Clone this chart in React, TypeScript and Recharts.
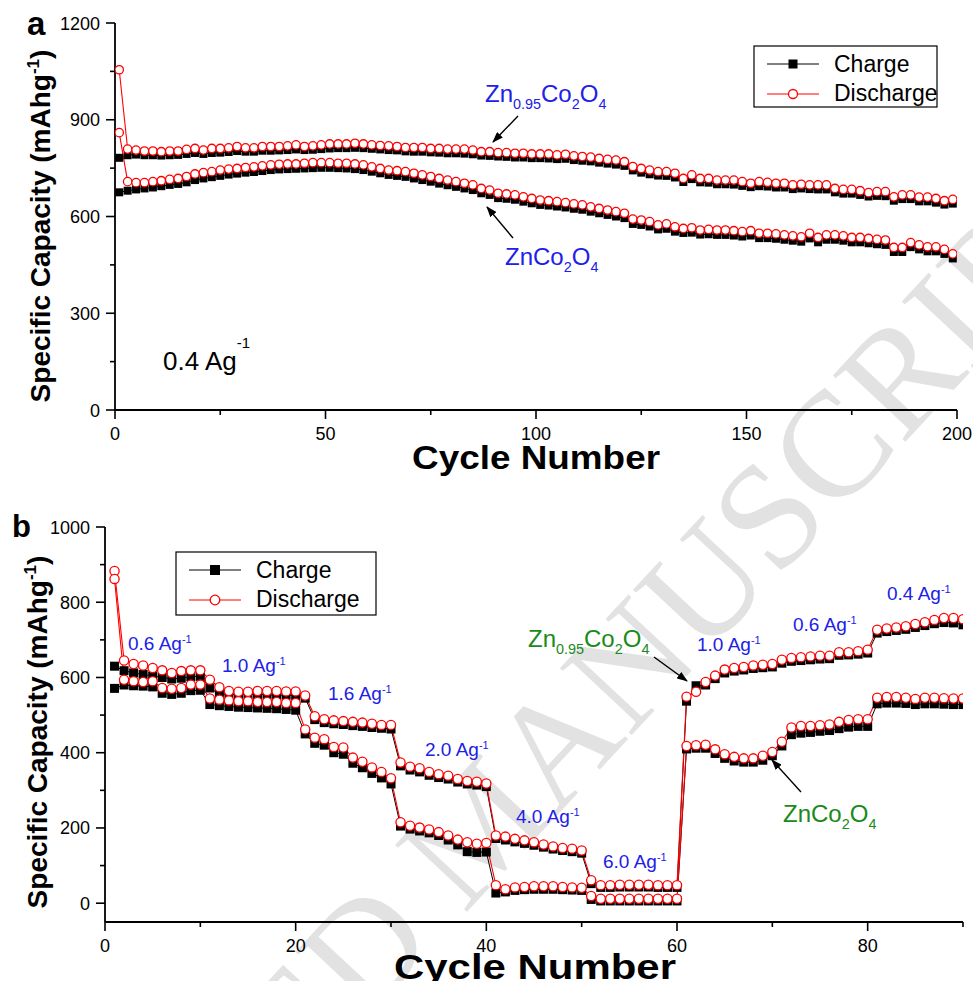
import React from "react";
import { LineChart, Line, XAxis, YAxis } from "recharts";

const FONT = "'Liberation Sans', Arial, Helvetica, sans-serif";
const SERIF = "'Liberation Serif', 'Times New Roman', serif";
const RED = "#ff0000";
const BLUE = "#2020e8";
const GREEN = "#1a8a1a";

// ---- panel a: 0.4 A/g cycling, markers every second cycle ----
const cyclesA = [
  1, 3, 5, 7, 9, 11, 13, 15, 17, 19, 21, 23, 25, 27, 29, 31, 33, 35, 37, 39, 41, 43, 45, 47, 49,
  51, 53, 55, 57, 59, 61, 63, 65, 67, 69, 71, 73, 75, 77, 79, 81, 83, 85, 87, 89, 91, 93, 95, 97, 99,
  101, 103, 105, 107, 109, 111, 113, 115, 117, 119, 121, 123, 125, 127, 129, 131, 133, 135, 137, 139,
  141, 143, 145, 147, 149, 151, 153, 155, 157, 159, 161, 163, 165, 167, 169, 171, 173, 175, 177, 179,
  181, 183, 185, 187, 189, 191, 193, 195, 197, 199,
];
const zn95DisA = [
  1055, 809, 806, 803, 803, 801, 803, 803, 808, 811, 806, 811, 811, 813, 817, 813, 813, 817, 817, 817, 819, 822,
  817, 819, 822, 825, 825, 825, 827, 825, 822, 820, 819, 817, 814, 814, 814, 811, 811, 809, 809, 809, 806, 801,
  801, 798, 798, 796, 796, 794, 794, 794, 791, 793, 788, 786, 784, 780, 777, 775, 770,
  755, 749, 744, 739, 739, 734, 718, 729, 718, 718, 713, 713, 713, 708, 703, 708, 706, 703, 703, 698,
  700, 698, 698, 698, 687, 684, 684, 680, 674, 677, 677, 661, 667, 667, 660, 660, 656, 649, 653,
];
const zn95ChgA = [
  782, 790, 792, 790, 790, 789, 790, 791, 794, 797, 794, 797, 798, 800, 803, 801, 801, 804, 804, 805, 806, 808,
  806, 807, 809, 811, 812, 812, 813, 812, 810, 808, 806, 805, 802, 801, 801, 799, 798, 796, 796, 795, 793, 789,
  788, 786, 785, 783, 783, 781, 781, 780, 778, 779, 775, 773, 771, 767, 764, 761, 757,
  743, 736, 731, 727, 726, 721, 707, 716, 706, 705, 700, 700, 699, 695, 691, 694, 693, 690, 690, 685,
  687, 685, 684, 684, 675, 671, 671, 667, 662, 664, 663, 649, 654, 654, 647, 647, 643, 637, 640,
];
const znDisA = [
  860, 708, 705, 705, 708, 711, 715, 718, 724, 732, 736, 739, 744, 747, 749, 752, 754, 757, 760, 762, 763, 763,
  765, 767, 767, 767, 765, 765, 763, 760, 754, 749, 744, 742, 739, 734, 729, 724, 718, 713, 708, 703, 698, 687,
  682, 672, 670, 667, 661, 656, 651, 649, 646, 643, 639, 636, 630, 625, 620, 615, 610,
  592, 589, 584, 574, 577, 568, 563, 565, 558, 560, 558, 558, 556, 553, 556, 548, 548, 546, 543, 540,
  537, 548, 535, 543, 543, 540, 535, 535, 532, 529, 527, 504, 504, 519, 512, 506, 506, 498, 484,
];
const znChgA = [
  675, 680, 684, 687, 690, 694, 698, 701, 706, 713, 718, 722, 726, 730, 733, 736, 738, 741, 744, 746, 747, 748,
  749, 750, 751, 751, 750, 749, 747, 744, 739, 734, 729, 726, 723, 718, 713, 708, 702, 697, 692, 687, 682, 672,
  667, 657, 655, 652, 646, 641, 636, 634, 631, 628, 624, 621, 615, 610, 605, 600, 595,
  577, 574, 569, 560, 562, 553, 549, 550, 544, 545, 543, 543, 541, 538, 541, 533, 533, 531, 528, 525,
  522, 532, 520, 528, 528, 525, 520, 520, 517, 514, 512, 490, 490, 505, 498, 492, 492, 484, 470,
];

// ---- panel b: rate capability ----
const cyclesB = [
  1, 2, 3, 4, 5, 6, 7, 8, 9, 10, 11, 12, 13, 14, 15, 16, 17, 18, 19, 20, 21, 22, 23, 24, 25, 26, 27, 28, 29, 30,
  31, 32, 33, 34, 35, 36, 37, 38, 39, 40, 41, 42, 43, 44, 45, 46, 47, 48, 49, 50, 51, 52, 53, 54, 55, 56, 57, 58,
  59, 60, 61, 62, 63, 64, 65, 66, 67, 68, 69, 70, 71, 72, 73, 74, 75, 76, 77, 78, 79, 80, 81, 82, 83, 84, 85, 86,
  87, 88, 89, 90,
];
const zn95DisB = [
  883, 645, 636, 632, 625, 619, 612, 617, 619, 619,
  594, 574, 564, 562, 562, 564, 564, 564, 563, 563,
  552, 497, 489, 486, 484, 482, 480, 477, 474, 474,
  374, 363, 359, 349, 343, 339, 330, 325, 323, 318,
  180, 177, 171, 167, 162, 156, 151, 147, 145, 140,
  61, 48, 48, 49, 49, 49, 49, 48, 48, 48,
  549, 562, 588, 605, 621, 625, 628, 632, 634, 636,
  647, 652, 654, 656, 658, 658, 667, 667, 670, 674,
  727, 730, 733, 736, 742, 747, 753, 758, 758, 755,
];
const zn95ChgB = [
  630, 618, 612, 608, 604, 600, 596, 598, 602, 603,
  572, 556, 555, 554, 555, 555, 554, 553, 553, 552,
  545, 488, 480, 477, 475, 472, 470, 467, 465, 463,
  365, 354, 349, 340, 334, 330, 322, 317, 314, 310,
  172, 168, 163, 159, 154, 149, 144, 140, 137, 133,
  52, 42, 42, 43, 43, 43, 43, 42, 42, 42,
  537, 578, 580, 597, 612, 617, 620, 624, 626, 628,
  638, 643, 645, 647, 649, 650, 659, 660, 662, 665,
  718, 722, 725, 728, 733, 738, 743, 746, 745, 740,
];
const znDisB = [
  862, 594, 590, 588, 590, 572, 570, 572, 581, 581,
  544, 541, 539, 537, 537, 535, 535, 535, 532, 532,
  462, 440, 436, 415, 414, 387, 376, 361, 349, 332,
  215, 206, 201, 196, 189, 180, 169, 162, 158, 160,
  48, 37, 42, 43, 45, 45, 45, 43, 42, 41,
  19, 12, 12, 12, 12, 12, 12, 12, 12, 12,
  418, 420, 421, 409, 396, 389, 385, 385, 392, 402,
  429, 467, 471, 471, 473, 475, 482, 487, 489, 489,
  546, 548, 548, 546, 543, 546, 546, 545, 544, 544,
];
const znChgB = [
  571, 580, 578, 577, 575, 558, 555, 558, 565, 566,
  528, 525, 523, 521, 520, 519, 518, 517, 515, 513,
  450, 425, 420, 400, 396, 372, 360, 345, 333, 317,
  205, 197, 192, 187, 180, 168, 155, 137, 135, 136,
  27, 30, 34, 36, 37, 37, 37, 36, 35, 34,
  10, 6, 6, 6, 6, 6, 6, 6, 6, 6,
  410, 412, 412, 398, 385, 378, 375, 375, 380, 392,
  418, 448, 452, 454, 457, 459, 464, 468, 470, 470,
  530, 532, 532, 531, 528, 530, 530, 529, 528, 528,
];

// axis ticks (all ticks, and the ones that carry a label)
const xTicksA = [0, 25, 50, 75, 100, 125, 150, 175, 200];
const xLabelsA = [0, 50, 100, 150, 200];
const yTicksA = [0, 150, 300, 450, 600, 750, 900, 1050, 1200];
const yLabelsA = [0, 300, 600, 900, 1200];
const xTicksB = [0, 10, 20, 30, 40, 50, 60, 70, 80, 90];
const xLabelsB = [0, 20, 40, 60, 80];
const yTicksB = [0, 100, 200, 300, 400, 500, 600, 700, 800, 900, 1000];
const yLabelsB = [0, 200, 400, 600, 800, 1000];

// current density labels in panel b: [x, baseline, text]
const ratesB: [number, number, string][] = [
  [128, 650, "0.6"],
  [222, 672, "1.0"],
  [328, 700, "1.6"],
  [425, 756, "2.0"],
  [516, 823, "4.0"],
  [603, 868, "6.0"],
  [697, 651, "1.0"],
  [793, 631, "0.6"],
  [887, 600, "0.4"],
];

const rowsA = cyclesA.map((cycle, i) => ({
  cycle,
  zn95Dis: zn95DisA[i],
  zn95Chg: zn95ChgA[i],
  znDis: znDisA[i],
  znChg: znChgA[i],
}));
const rowsB = cyclesB.map((cycle, i) => ({
  cycle,
  zn95Dis: zn95DisB[i],
  zn95Chg: zn95ChgB[i],
  znDis: znDisB[i],
  znChg: znChgB[i],
}));

type Side = "bottom" | "left" | "top" | "right";

function makeTick(side: Side, labels: number[]) {
  return (p: any) => {
    const v = p.payload.value;
    const major = labels.includes(v);
    const { x, y } = p;
    const len = side === "top" || side === "right" ? 4 : major ? 9 : 5;
    if (side === "bottom") {
      return (
        <g>
          <line x1={x} y1={y} x2={x} y2={y + len} stroke="#000" strokeWidth={1.6} />
          {major && (
            <text x={x} y={y + 30} textAnchor="middle" fontSize={18} fontFamily={FONT} fill="#000">
              {v}
            </text>
          )}
        </g>
      );
    }
    if (side === "left") {
      return (
        <g>
          <line x1={x} y1={y} x2={x - len} y2={y} stroke="#000" strokeWidth={1.6} />
          {major && (
            <text x={x - 15} y={y + 6.5} textAnchor="end" fontSize={18} fontFamily={FONT} fill="#000">
              {v}
            </text>
          )}
        </g>
      );
    }
    if (side === "top") {
      return <line x1={x} y1={y} x2={x} y2={y - len} stroke="#000" strokeWidth={1.4} />;
    }
    return <line x1={x} y1={y} x2={x + len} y2={y} stroke="#000" strokeWidth={1.4} />;
  };
}

const squareDot = (size: number) => (p: any) => (
  <rect key={p.index} x={p.cx - size / 2} y={p.cy - size / 2} width={size} height={size} fill="#000" />
);
const circleDot = (r: number) => ({ r, fill: "#fff", stroke: RED, strokeWidth: 1.3 });

const axisLine = { stroke: "#000", strokeWidth: 1.8 };

function Panel(props: {
  rows: any[];
  width: number;
  height: number;
  margin: { top: number; right: number; bottom: number; left: number };
  xDomain: [number, number];
  yDomain: [number, number];
  xTicks: number[];
  xLabels: number[];
  yTicks: number[];
  yLabels: number[];
  xHeight: number;
  yWidth: number;
  sq: number;
  r: number;
}) {
  const p = props;
  return (
    <LineChart width={p.width} height={p.height} data={p.rows} margin={p.margin}>
      <XAxis
        dataKey="cycle"
        type="number"
        domain={p.xDomain}
        ticks={p.xTicks}
        interval={0}
        height={p.xHeight}
        tickSize={0}
        tickMargin={0}
        tickLine={false}
        axisLine={axisLine}
        tick={makeTick("bottom", p.xLabels)}
        allowDataOverflow
      />
      <XAxis
        xAxisId="top"
        orientation="top"
        type="number"
        domain={p.xDomain}
        ticks={p.xTicks}
        interval={0}
        height={0}
        tickSize={0}
        tickMargin={0}
        tickLine={false}
        axisLine={axisLine}
        tick={makeTick("top", [])}
        allowDataOverflow
      />
      <YAxis
        type="number"
        domain={p.yDomain}
        ticks={p.yTicks}
        interval={0}
        width={p.yWidth}
        tickSize={0}
        tickMargin={0}
        tickLine={false}
        axisLine={axisLine}
        tick={makeTick("left", p.yLabels)}
        allowDataOverflow
      />
      <YAxis
        yAxisId="right"
        orientation="right"
        type="number"
        domain={p.yDomain}
        ticks={p.yTicks}
        interval={0}
        width={0}
        tickSize={0}
        tickMargin={0}
        tickLine={false}
        axisLine={axisLine}
        tick={makeTick("right", [])}
        allowDataOverflow
      />
      <Line dataKey="zn95Chg" stroke="#000" strokeWidth={1} dot={squareDot(p.sq)} activeDot={false} isAnimationActive={false} />
      <Line dataKey="znChg" stroke="#000" strokeWidth={1} dot={squareDot(p.sq)} activeDot={false} isAnimationActive={false} />
      <Line dataKey="zn95Dis" stroke={RED} strokeWidth={1.1} dot={circleDot(p.r)} activeDot={false} isAnimationActive={false} />
      <Line dataKey="znDis" stroke={RED} strokeWidth={1.1} dot={circleDot(p.r)} activeDot={false} isAnimationActive={false} />
    </LineChart>
  );
}

// chemical formula with subscripts
function Formula(props: { x: number; y: number; parts: [string, boolean][]; size: number; color: string; shift: number }) {
  const { x, y, parts, size, color, shift } = props;
  let prevSub = false;
  return (
    <text x={x} y={y} fontSize={size} fontFamily={FONT} fill={color}>
      {parts.map(([t, sub], i) => {
        const dy = sub && !prevSub ? shift : !sub && prevSub ? -shift : 0;
        prevSub = sub;
        return (
          <tspan key={i} dy={dy} fontSize={sub ? size * 0.6 : size}>
            {t}
          </tspan>
        );
      })}
    </text>
  );
}

const ZN95: [string, boolean][] = [["Zn", false], ["0.95", true], ["Co", false], ["2", true], ["O", false], ["4", true]];
const ZN: [string, boolean][] = [["Zn", false], ["Co", false], ["2", true], ["O", false], ["4", true]];

function Legend(props: { x: number; y: number; w: number; h: number; size: number; r: number }) {
  const { x, y, w, h, size, r } = props;
  return (
    <g>
      <rect x={x} y={y} width={w} height={h} fill="#fff" stroke="#000" strokeWidth={1.2} />
      <line x1={x + 13} y1={y + 18} x2={x + 65} y2={y + 18} stroke="#000" strokeWidth={1} />
      <rect x={x + 39 - size / 2} y={y + 18 - size / 2} width={size} height={size} fill="#000" />
      <text x={x + 80} y={y + 26} fontSize={23} fontFamily={FONT}>Charge</text>
      <line x1={x + 13} y1={y + 48} x2={x + 65} y2={y + 48} stroke={RED} strokeWidth={1} />
      <circle cx={x + 39} cy={y + 48} r={r} fill="#fff" stroke={RED} strokeWidth={1.3} />
      <text x={x + 80} y={y + 55} fontSize={23} fontFamily={FONT}>Discharge</text>
    </g>
  );
}

function Arrow(props: { x1: number; y1: number; x2: number; y2: number }) {
  return <line {...props} stroke="#000" strokeWidth={1.4} markerEnd="url(#head)" />;
}

export default function App() {
  return (
    <div style={{ position: "absolute", left: 0, top: 0, width: 973, height: 981, background: "#fff", overflow: "hidden" }}>
      {/* faint diagonal stamp behind both panels */}
      <svg width={973} height={981} style={{ position: "absolute", left: 0, top: 0 }}>
        <g transform="rotate(-47 464 915)">
          <text x={426} y={915} textAnchor="end" fontSize={150} fontFamily={SERIF} fill="#e2e2e2">
            ACCEPTED
          </text>
          <text x={464} y={915} fontSize={150} fontFamily={SERIF} fill="#e2e2e2">
            MANUSCRIPT
          </text>
        </g>
      </svg>
      <div style={{ position: "absolute", left: 0, top: 0 }}>
        <Panel
          rows={rowsA}
          width={973}
          height={490}
          margin={{ top: 23, right: 16, bottom: 0, left: 0 }}
          xDomain={[0, 200]}
          yDomain={[0, 1200]}
          xTicks={xTicksA}
          xLabels={xLabelsA}
          yTicks={yTicksA}
          yLabels={yLabelsA}
          xHeight={80}
          yWidth={115}
          sq={8}
          r={4.2}
        />
      </div>
      <div style={{ position: "absolute", left: 0, top: 490 }}>
        <Panel
          rows={rowsB}
          width={973}
          height={491}
          margin={{ top: 37, right: 10, bottom: 0, left: 0 }}
          xDomain={[0, 90]}
          yDomain={[-50, 1000]}
          xTicks={xTicksB}
          xLabels={xLabelsB}
          yTicks={yTicksB}
          yLabels={yLabelsB}
          xHeight={59}
          yWidth={105}
          sq={9}
          r={4.6}
        />
      </div>
      <svg width={973} height={981} style={{ position: "absolute", left: 0, top: 0, pointerEvents: "none" }}>
        <defs>
          <marker id="head" markerWidth={11} markerHeight={8} refX={10} refY={4} orient="auto" markerUnits="userSpaceOnUse">
            <path d="M0,0 L11,4 L0,8 z" fill="#000" />
          </marker>
        </defs>

        {/* panel a */}
        <text x={27} y={35} fontSize={33} fontWeight="bold" fontFamily={FONT}>a</text>
        <text x={50} y={226} transform="rotate(-90 50 226)" textAnchor="middle" fontSize={28} fontWeight="bold" fontFamily={FONT}>
          Specific Capacity (mAhg<tspan dy={-11} fontSize={17}>-1</tspan>
          <tspan dy={11}>)</tspan>
        </text>
        <text x={536} y={469} textAnchor="middle" fontSize={33} fontWeight="bold" fontFamily={FONT} textLength={248} lengthAdjust="spacingAndGlyphs">
          Cycle Number
        </text>
        <text x={163} y={370} fontSize={26} fontFamily={FONT}>
          0.4 Ag<tspan dy={-22} fontSize={15}>-1</tspan>
        </text>
        <Legend x={754} y={46} w={183} h={61} size={9} r={4.5} />
        <Formula x={485} y={102} parts={ZN95} size={24} color={BLUE} shift={6.5} />
        <Formula x={505} y={265} parts={ZN} size={24} color={BLUE} shift={6.5} />
        <Arrow x1={518} y1={116} x2={493} y2={142} />
        <Arrow x1={513} y1={238} x2={487} y2={207} />

        {/* panel b */}
        <text x={12} y={537} fontSize={31} fontWeight="bold" fontFamily={FONT}>b</text>
        <text x={47} y={732} transform="rotate(-90 47 732)" textAnchor="middle" fontSize={28} fontWeight="bold" fontFamily={FONT}>
          Specific Capacity (mAhg<tspan dy={-11} fontSize={17}>-1</tspan>
          <tspan dy={11}>)</tspan>
        </text>
        <text x={535} y={979} textAnchor="middle" fontSize={35} fontWeight="bold" fontFamily={FONT} textLength={282} lengthAdjust="spacingAndGlyphs">
          Cycle Number
        </text>
        <Legend x={176} y={552} w={200} h={63} size={10} r={4.8} />
        {ratesB.map(([x, y, t], i) => (
          <text key={i} x={x} y={y} fontSize={19} fontFamily={FONT} fill={BLUE}>
            {t} Ag<tspan dy={-7} fontSize={11}>-1</tspan>
          </text>
        ))}
        <Formula x={528} y={647} parts={ZN95} size={24} color={GREEN} shift={7} />
        <Formula x={783} y={822} parts={ZN} size={24} color={GREEN} shift={7} />
        <Arrow x1={654} y1={657} x2={687} y2={681} />
        <Arrow x1={801} y1={792} x2={772} y2={760} />
      </svg>
    </div>
  );
}
